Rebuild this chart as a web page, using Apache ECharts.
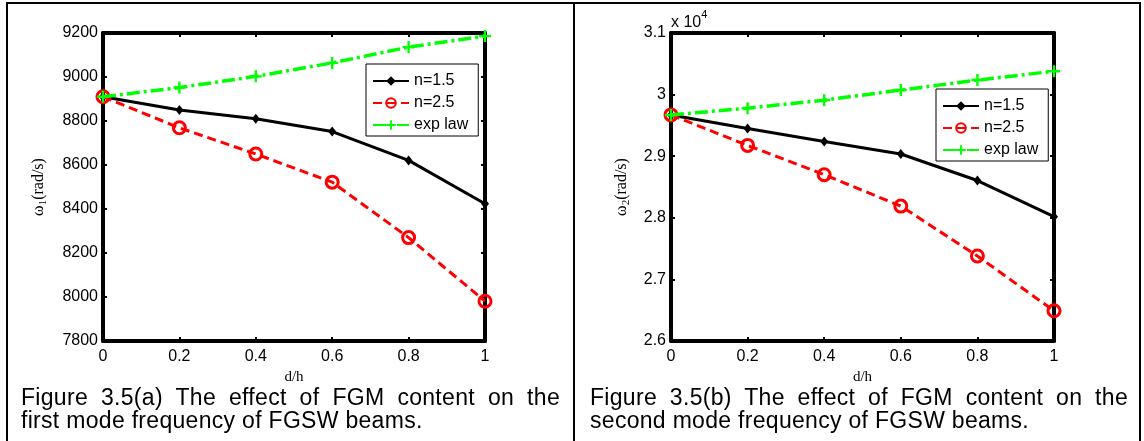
<!DOCTYPE html>
<html>
<head>
<meta charset="utf-8">
<script src="https://cdn.jsdelivr.net/npm/echarts@6/dist/echarts.min.js"></script>
<style>
  html, body { margin: 0; padding: 0; background: #fff; }
  #wrap { position: relative; width: 1144px; height: 441px; overflow: hidden; }
  #chart { position: absolute; left: 0; top: 0; width: 1144px; height: 441px; }
  .frame { position: absolute; background: #000; }
  .cap { position: absolute; font-family: "Liberation Sans", Arial, sans-serif; font-size: 23px;
         letter-spacing: 0.3px; line-height: 23px; color: #000; white-space: nowrap; }
  .just { text-align: justify; text-align-last: justify; white-space: normal; }
</style>
</head>
<body>
<div id="wrap">
  <div id="chart"></div>
  <div class="frame" style="left:6px;top:2px;width:1135px;height:2px;"></div>
  <div class="frame" style="left:6px;top:2px;width:2px;height:460px;"></div>
  <div class="frame" style="left:573px;top:2px;width:2px;height:460px;"></div>
  <div class="frame" style="left:1139px;top:2px;width:2px;height:460px;"></div>
  <div class="cap just" style="left:21px;top:386px;width:539px;">Figure 3.5(a) The effect of FGM content on the</div>
  <div class="cap" style="left:21px;top:409px;">first mode frequency of FGSW beams.</div>
  <div class="cap just" style="left:590px;top:386px;width:538px;">Figure 3.5(b) The effect of FGM content on the</div>
  <div class="cap" style="left:590px;top:409px;">second mode frequency of FGSW beams.</div>
</div>
<script>
// ---- data ----
const dh = [0, 0.2, 0.4, 0.6, 0.8, 1];
const seriesNames = ['n=1.5', 'n=2.5', 'exp law'];
// Figure (a): first mode frequency (rad/s)
const w1_n15 = [8910, 8850, 8810, 8752, 8621, 8424];
const w1_n25 = [8910, 8769, 8650, 8522, 8270, 7981];
const w1_exp = [8910, 8952, 9003, 9064, 9136, 9186];
// Figure (b): second mode frequency (rad/s)
const w2_n15 = [29670, 29450, 29240, 29036, 28605, 28018];
const w2_n25 = [29670, 29175, 28700, 28190, 27380, 26490];
const w2_exp = [29670, 29780, 29910, 30074, 30236, 30380];
const xTicks = { min: 0, max: 1, interval: 0.2 };
const y1Ticks = { min: 7800, max: 9200, interval: 200 };
const y2Ticks = { min: 26000, max: 31000, interval: 1000 };

const zip = (xs, ys) => xs.map((x, i) => [x, ys[i]]);
const PLUS = 'path://M4,0H6V4H10V6H6V10H4V6H0V4H4Z';
const SANS = '"Liberation Sans", Arial, sans-serif';
const SERIF = '"Liberation Serif", "Times New Roman", serif';

function styleFor(name) {
  if (name === 'n=1.5') return {
    symbol: 'diamond', symbolSize: [8, 10],
    lineStyle: { color: '#000', width: 3, type: 'solid' },
    itemStyle: { color: '#000' }
  };
  if (name === 'n=2.5') return {
    symbol: 'circle', symbolSize: 12,
    lineStyle: { color: '#ff0000', width: 3, type: [9, 5] },
    itemStyle: { color: 'rgba(255,255,255,0)', borderColor: '#ff0000', borderWidth: 3 }
  };
  return {
    symbol: PLUS, symbolSize: 12,
    lineStyle: { color: '#00ff00', width: 3.5, type: [13, 4, 3, 4] },
    itemStyle: { color: '#00ff00' }
  };
}

function mkSeries(name, data, idx) {
  return Object.assign({
    type: 'line', name: name, data: zip(dh, data),
    xAxisIndex: idx, yAxisIndex: idx, clip: false, z: name === 'n=2.5' ? 3 : (name === 'exp law' ? 4 : 2),
    emphasis: { disabled: true }, animation: false
  }, styleFor(name));
}

function xAx(gridIndex, pos, labels) {
  return {
    type: 'value', gridIndex: gridIndex, position: pos, min: xTicks.min, max: xTicks.max, interval: xTicks.interval,
    axisLine: { show: true, onZero: false, lineStyle: { color: '#000', width: 4 } },
    axisTick: { show: true, inside: true, length: 4, lineStyle: { color: '#000', width: 2 } },
    axisLabel: { show: labels, color: '#000', fontFamily: SANS, fontSize: 16, margin: 8 },
    splitLine: { show: false },
    name: labels ? 'd/h' : '', nameLocation: 'middle', nameGap: 28,
    nameTextStyle: { fontFamily: SERIF, fontSize: 15, color: '#000' }
  };
}
function yAx(gridIndex, pos, ticks, labels, fmt, nameRich, nameGap) {
  return {
    type: 'value', gridIndex: gridIndex, position: pos, min: ticks.min, max: ticks.max, interval: ticks.interval,
    axisLine: { show: true, onZero: false, lineStyle: { color: '#000', width: 4 } },
    axisTick: { show: true, inside: true, length: 4, lineStyle: { color: '#000', width: 2 } },
    axisLabel: { show: labels, color: '#000', fontFamily: SANS, fontSize: 16, margin: 5, formatter: fmt },
    splitLine: { show: false },
    name: labels ? nameRich : '', nameLocation: 'middle', nameGap: nameGap, nameRotate: 90,
    nameTextStyle: {
      color: '#000', fontFamily: SERIF, fontSize: 16,
      rich: {
        a: { fontFamily: SERIF, fontSize: 16, color: '#000' },
        s: { fontFamily: SERIF, fontSize: 11, color: '#000', verticalAlign: 'bottom', padding: [10, 0, 0, 0] }
      }
    }
  };
}

const legendBase = {
  orient: 'vertical', data: seriesNames, backgroundColor: '#fff',
  borderColor: '#000', borderWidth: 1, borderRadius: 0,
  padding: [9, 10, 3, 6], itemWidth: 36, itemHeight: 12, itemGap: 6,
  textStyle: { color: '#000', fontFamily: SANS, fontSize: 16 },
  selectedMode: false
};

const option = {
  backgroundColor: '#fff',
  animation: false,
  grid: [
    { left: 103, top: 33, width: 382, height: 308 },
    { left: 671, top: 33, width: 383, height: 308 }
  ],
  xAxis: [xAx(0, 'bottom', true), xAx(0, 'top', false), xAx(1, 'bottom', true), xAx(1, 'top', false)],
  yAxis: [
    yAx(0, 'left', y1Ticks, true, v => String(v), '{a|ω}{s|1}{a|(rad/s)}', 54),
    yAx(0, 'right', y1Ticks, false, null, '', 0),
    yAx(1, 'left', y2Ticks, true, v => String(v / 10000), '{a|ω}{s|2}{a|(rad/s)}', 39),
    yAx(1, 'right', y2Ticks, false, null, '', 0)
  ],
  legend: [
    Object.assign({}, legendBase, { left: 366, top: 64 }),
    Object.assign({}, legendBase, { left: 936, top: 89 })
  ],
  graphic: [{
    type: 'text', left: 671, top: 9, z: 10,
    style: {
      text: '{a|x 10}{s|4}', fill: '#000',
      rich: {
        a: { fontFamily: SANS, fontSize: 16, fill: '#000', padding: [6, 0, 0, 0] },
        s: { fontFamily: SANS, fontSize: 11, fill: '#000', verticalAlign: 'top' }
      }
    }
  }],
  series: [
    mkSeries('n=1.5', w1_n15, 0), mkSeries('n=2.5', w1_n25, 0), mkSeries('exp law', w1_exp, 0),
    mkSeries('n=1.5', w2_n15, 2), mkSeries('n=2.5', w2_n25, 2), mkSeries('exp law', w2_exp, 2)
  ]
};

const chart = echarts.init(document.getElementById('chart'), null, { renderer: 'canvas' });
chart.setOption(option);
</script>
</body>
</html>
